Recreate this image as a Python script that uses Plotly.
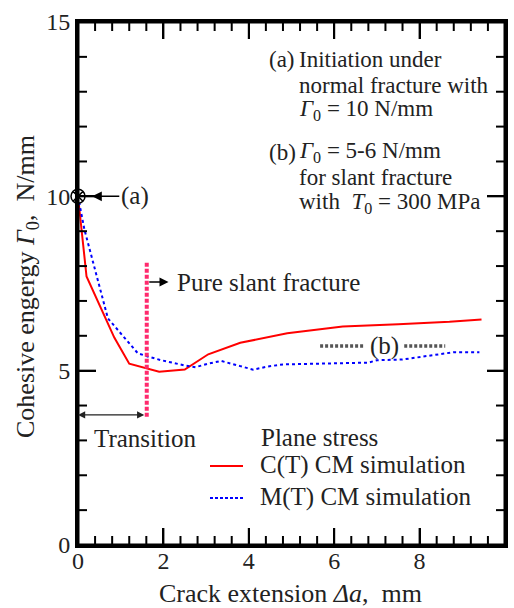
import plotly.graph_objects as go

# ---- data ----
ct_x = [0, 0.2, 0.85, 1.2, 1.9, 2.5, 3.05, 3.8, 4.9, 6.2, 7.5, 8.7, 9.45]
ct_y = [10, 7.7, 5.95, 5.2, 4.97, 5.03, 5.47, 5.8, 6.07, 6.27, 6.33, 6.4, 6.47]

mt_x = [0, 0.15, 0.7, 0.95, 1.4, 1.65, 1.95, 2.5, 2.75, 3.05, 3.35, 3.8, 4.1,
        4.45, 4.8, 6.8, 7.0, 7.6, 8.2, 8.8, 9.4]
mt_y = [10, 9.05, 6.5, 6.15, 5.5, 5.4, 5.3, 5.15, 5.1, 5.2, 5.28, 5.13, 5.03,
        5.12, 5.18, 5.23, 5.3, 5.32, 5.42, 5.53, 5.53]

init_x = [0]
init_y = [10]

x_ticks = [0, 2, 4, 6, 8, 10]
y_ticks = [0, 5, 10, 15]
x_minor_step = 0.4
y_minor_step = 1

transition_end = 1.61
slant_line_y = (3.68, 8.12)
b_level = 5.71

FONT = "Liberation Serif, Times New Roman, DejaVu Serif, serif"
TXT = "#222"

# plot area in pixels
L, R, T, B = 78, 505, 22, 545
W, H = R - L, B - T


def px(x):
    return (x - L) / W


def py(y):
    return (B - y) / H


fig = go.Figure()
fig.add_trace(go.Scatter(x=ct_x, y=ct_y, mode="lines",
                         line=dict(color="#ff0000", width=2), showlegend=False))
fig.add_trace(go.Scatter(x=mt_x, y=mt_y, mode="lines",
                         line=dict(color="#0000ff", width=2, dash="3px,3px"),
                         showlegend=False))
fig.add_trace(go.Scatter(x=init_x, y=init_y, mode="markers", cliponaxis=False,
                         marker=dict(symbol="circle-x", size=14, color="white",
                                     line=dict(color="black", width=1.5)),
                         showlegend=False))

# ---- frame and tick marks (placed through the axes' own scales) ----
fig.add_shape(type="rect", xref="paper", yref="paper", x0=0, x1=1, y0=0, y1=1,
              opacity=1, layer="above", fillcolor="rgba(0,0,0,0)",
              line=dict(color="black", width=3))

tick_line = dict(color="black", width=2)


def x_tick(v, length):
    for anchor, sign in ((0, 1), (1, -1)):
        fig.add_shape(type="line", xref="x", yref="paper", x0=v, x1=v,
                      ysizemode="pixel", yanchor=anchor, y0=0, y1=sign * length,
                      opacity=1, line=tick_line)


def y_tick(v, length):
    for anchor, sign in ((0, 1), (1, -1)):
        fig.add_shape(type="line", yref="y", xref="paper", y0=v, y1=v,
                      xsizemode="pixel", xanchor=anchor, x0=0, x1=sign * length,
                      opacity=1, line=tick_line)


n_xminor = int(round(10 / x_minor_step))
for i in range(n_xminor + 1):
    v = round(i * x_minor_step, 6)
    if v in x_ticks:
        x_tick(v, 17)
    else:
        x_tick(v, 9)

n_yminor = int(round(15 / y_minor_step))
for i in range(n_yminor + 1):
    v = i * y_minor_step
    if v in y_ticks:
        y_tick(v, 18)
    else:
        y_tick(v, 9)

# pink vertical dashed line
fig.add_shape(type="line", x0=transition_end, x1=transition_end,
              y0=slant_line_y[0], y1=slant_line_y[1], opacity=1,
              line=dict(color="#ff2a6d", width=4, dash="4px,2px"))

# (b) gray dotted segments
fig.add_shape(type="line", x0=5.67, x1=6.72, y0=b_level, y1=b_level, opacity=1,
              line=dict(color="#555", width=3.5, dash="3px,2px"))
fig.add_shape(type="line", x0=7.64, x1=8.6, y0=b_level, y1=b_level, opacity=1,
              line=dict(color="#555", width=3.5, dash="3px,2px"))

ann = []
ann.append(dict(x=7.18, y=b_level, xref="x", yref="y", text="(b)", showarrow=False,
                font=dict(family=FONT, size=25, color=TXT)))
ann.append(dict(x=0.33, y=10, xref="x", yref="y", ax=1.33, ay=10, axref="x", ayref="y",
                text="(a)", showarrow=True, arrowhead=2, arrowsize=1.3, arrowwidth=1.5,
                arrowcolor="black", font=dict(family=FONT, size=25, color=TXT)))
ann.append(dict(x=2.12, y=7.54, xref="x", yref="y", ax=transition_end, ay=7.54,
                axref="x", ayref="y", text=" ", showarrow=True, arrowhead=2,
                arrowsize=1.2, arrowwidth=1.5, arrowcolor="black",
                font=dict(size=6)))
ann.append(dict(x=px(175), y=py(282), xref="paper", yref="paper", xanchor="left",
                yanchor="middle", text="Pure slant fracture", showarrow=False,
                font=dict(family=FONT, size=25, color=TXT)))
ann.append(dict(x=0, y=3.73, xref="x", yref="y", ax=transition_end, ay=3.73,
                axref="x", ayref="y", text=" ", showarrow=True, arrowhead=2,
                startarrowhead=2, arrowside="end+start", arrowsize=1.2,
                startarrowsize=1.2, arrowwidth=1.2, arrowcolor="#222",
                font=dict(size=6)))
ann.append(dict(x=px(92), y=py(438), xref="paper", yref="paper", xanchor="left",
                yanchor="middle", text="Transition", showarrow=False,
                font=dict(family=FONT, size=25, color=TXT)))

tr_lines = [
    (267, 59, "(a)"),
    (297, 59, "Initiation under"),
    (297, 85, "normal fracture with"),
    (297, 110, "<i>Γ</i><sub>0</sub> = 10 N/mm"),
    (267, 152, "(b)"),
    (297, 152, "<i>Γ</i><sub>0</sub> = 5-6 N/mm"),
    (297, 177, "for slant fracture"),
    (297, 203, "with  <i>T</i><sub>0</sub> = 300 MPa"),
]
for xx, yy, t in tr_lines:
    ann.append(dict(x=px(xx), y=py(yy), xref="paper", yref="paper", xanchor="left",
                    yanchor="middle", text=t, showarrow=False,
                    font=dict(family=FONT, size=23, color=TXT)))

ann.append(dict(x=px(259), y=py(437), xref="paper", yref="paper", xanchor="left",
                yanchor="middle", text="Plane stress", showarrow=False,
                font=dict(family=FONT, size=25, color=TXT)))
ann.append(dict(x=px(258), y=py(465), xref="paper", yref="paper", xanchor="left",
                yanchor="middle", text="C(T) CM simulation", showarrow=False,
                font=dict(family=FONT, size=25, color=TXT)))
ann.append(dict(x=px(258), y=py(497), xref="paper", yref="paper", xanchor="left",
                yanchor="middle", text="M(T) CM simulation", showarrow=False,
                font=dict(family=FONT, size=25, color=TXT)))
fig.add_shape(type="line", xref="paper", yref="paper", x0=px(210), x1=px(243),
              y0=py(466), y1=py(466), opacity=1, line=dict(color="#ff0000", width=2))
fig.add_shape(type="line", xref="paper", yref="paper", x0=px(210), x1=px(243),
              y0=py(498), y1=py(498), opacity=1,
              line=dict(color="#0000ff", width=2, dash="3px,2px"))

ann.append(dict(x=px(290), y=py(593), xref="paper", yref="paper", xanchor="center",
                yanchor="middle", text="Crack extension <i>Δa</i>,  mm", showarrow=False,
                font=dict(family=FONT, size=26, color=TXT)))
ann.append(dict(x=px(27), y=py(287), xref="paper", yref="paper", xanchor="center",
                yanchor="middle", textangle=-90,
                text="Cohesive engergy <i>Γ</i><sub>0</sub>,  N/mm", showarrow=False,
                font=dict(family=FONT, size=26, color=TXT)))

fig.update_layout(
    template="simple_white",
    width=514, height=608,
    margin=dict(l=L, r=514 - R, t=T, b=608 - B, autoexpand=False),
    paper_bgcolor="white", plot_bgcolor="white",
    font=dict(family=FONT, color=TXT),
    annotations=ann,
    showlegend=False,
)
fig.update_xaxes(range=[0, 10], tickmode="array", tickvals=x_ticks, ticks="inside",
                 ticklen=17, tickwidth=2, tickcolor="black", showline=True,
                 linecolor="black", linewidth=3, mirror="allticks", showgrid=False,
                 zeroline=False, ticklabelstandoff=-8, automargin=False,
                 tickfont=dict(family=FONT, size=24, color=TXT))
fig.update_yaxes(range=[0, 15], tickmode="array", tickvals=y_ticks, ticks="inside",
                 ticklen=18, tickwidth=2, tickcolor="black", showline=True,
                 linecolor="black", linewidth=3, mirror="allticks", showgrid=False,
                 zeroline=False, automargin=False,
                 tickfont=dict(family=FONT, size=24, color=TXT))

fig.write_html("out.html")
